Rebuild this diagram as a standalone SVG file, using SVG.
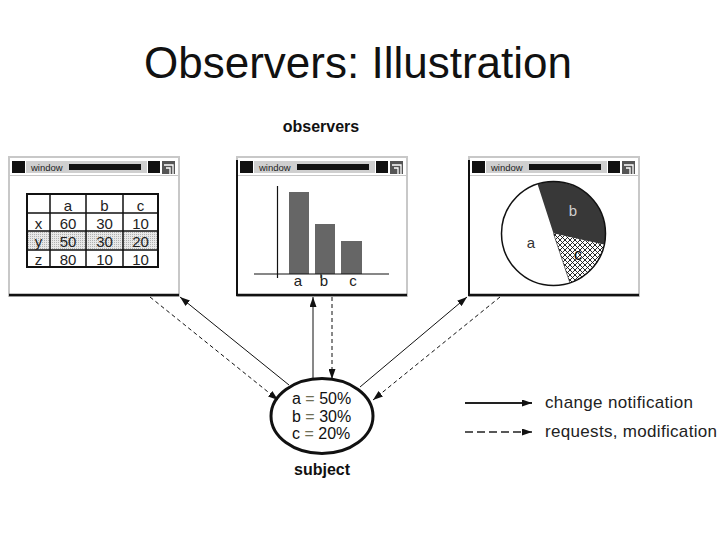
<svg xmlns="http://www.w3.org/2000/svg" xmlns:xlink="http://www.w3.org/1999/xlink" width="720" height="540" viewBox="0 0 720 540">
<style>
text { font-family: "Liberation Sans", Arial, sans-serif; fill: #111; }
.title { font-size: 44px; text-anchor: middle; }
.bold { font-weight: bold; font-size: 16px; text-anchor: middle; }
.cell { font-size: 15px; text-anchor: middle; fill: #222; }
.lbl { font-size: 15px; text-anchor: middle; fill: #222; }
.subj { font-size: 16px; }
.leg { font-size: 17px; fill: #222; }
.conn { stroke: #111; stroke-width: 1; fill: none; }
.dash { stroke-dasharray: 4 3; }
.grid { stroke: #111; stroke-width: 1.5; fill: none; }
</style>
<defs>
<marker id="arr" viewBox="0 0 10 7" refX="10" refY="3.5" markerWidth="10" markerHeight="7" markerUnits="userSpaceOnUse" orient="auto">
<path d="M0,0 L10,3.5 L0,7 z" fill="#111"/>
</marker>
<pattern id="hatch" patternUnits="userSpaceOnUse" width="5" height="5">
<rect width="5" height="5" fill="#fff"/>
<path d="M0,0 L5,5 M5,0 L0,5" stroke="#111" stroke-width="0.9"/>
</pattern>
<pattern id="dots" patternUnits="userSpaceOnUse" width="2" height="2">
<rect width="2" height="2" fill="#e8e8e8"/>
<rect width="1" height="1" fill="#b0b0b0"/>
</pattern>
<g id="win">
<rect x="0" y="0" width="170" height="139" fill="#fff" stroke="#c8c8c8" stroke-width="2"/>
<rect x="3" y="4" width="13" height="12" fill="#111"/>
<rect x="17" y="4" width="121" height="12" fill="#cfcfcf"/>
<text x="22" y="14" style="font-size:9.5px;fill:#222">window</text>
<rect x="60" y="7" width="72" height="6" fill="#111"/>
<rect x="139" y="4" width="12" height="12" fill="#111"/>
<rect x="153" y="4" width="13" height="13" fill="#555"/>
<path d="M155,8 H164 V17 M157,11 H161 V17" stroke="#fff" stroke-width="1.3" fill="none"/>
<line x1="1" y1="18.5" x2="169" y2="18.5" stroke="#c8c8c8" stroke-width="1"/>
<line x1="0" y1="138" x2="170" y2="138" stroke="#111" stroke-width="2.5"/>
</g>
</defs>
<rect width="720" height="540" fill="#fff"/>
<text class="title" x="358" y="78">Observers: Illustration</text>
<text class="bold" x="321" y="132">observers</text>

<g id="table-window">
<use xlink:href="#win" x="9" y="157"/>
<rect x="27" y="231" width="131" height="19" fill="url(#dots)"/>
<rect x="27" y="194" width="131" height="73" fill="none" stroke="#111" stroke-width="2"/>
<path class="grid" d="M50,194 V267 M86,194 V267 M123,194 V267 M27,213 H158 M27,231 H158 M27,250 H158"/>
<text class="cell" x="68" y="211">a</text><text class="cell" x="104.5" y="211">b</text><text class="cell" x="140.5" y="211">c</text>
<text class="cell" x="38.5" y="229">x</text><text class="cell" x="68" y="229">60</text><text class="cell" x="104.5" y="229">30</text><text class="cell" x="140.5" y="229">10</text>
<text class="cell" x="38.5" y="247">y</text><text class="cell" x="68" y="247">50</text><text class="cell" x="104.5" y="247">30</text><text class="cell" x="140.5" y="247">20</text>
<text class="cell" x="38.5" y="265">z</text><text class="cell" x="68" y="265">80</text><text class="cell" x="104.5" y="265">10</text><text class="cell" x="140.5" y="265">10</text>
</g>

<g id="bar-window">
<use xlink:href="#win" x="237" y="157"/>
<line x1="237" y1="160" x2="237" y2="296" stroke="#111" stroke-width="2"/>
<rect x="289" y="192" width="20" height="82" fill="#666"/>
<rect x="315" y="224" width="20" height="50" fill="#666"/>
<rect x="341" y="241" width="21" height="33" fill="#666"/>
<line x1="277.5" y1="186" x2="277.5" y2="278" stroke="#111" stroke-width="1.2"/>
<line x1="254" y1="274" x2="389" y2="274" stroke="#111" stroke-width="1.2"/>
<line x1="321" y1="274" x2="321" y2="278" stroke="#111" stroke-width="1"/>
<text class="lbl" x="298" y="286">a</text>
<text class="lbl" x="324" y="286">b</text>
<text class="lbl" x="353" y="286">c</text>
</g>

<g id="pie-window">
<use xlink:href="#win" x="469" y="157"/>
<line x1="469" y1="160" x2="469" y2="296" stroke="#111" stroke-width="2"/>
<circle cx="553.5" cy="233.5" r="52" fill="#fff"/>
<path d="M553.5,233.5 L537.5,184 A52,52 0 0 1 604.3,244.8 Z" fill="#383838"/>
<path d="M553.5,233.5 L604.3,244.8 A52,52 0 0 1 569.9,282.8 Z" fill="url(#hatch)"/>
<path d="M553.5,233.5 L569.9,282.8" stroke="#111" stroke-width="0.6" fill="none"/>
<circle cx="553.5" cy="233.5" r="52" fill="none" stroke="#111" stroke-width="1.5"/>
<text class="lbl" x="573" y="216" style="fill:#cfcfcf">b</text>
<text class="lbl" x="531" y="248" style="fill:#333">a</text>
<text class="lbl" x="578" y="260" style="fill:#000;font-size:16px;stroke:#fff;stroke-width:0.6;paint-order:stroke">c</text>
</g>

<g id="subject">
<ellipse cx="322" cy="416" rx="51" ry="37.5" fill="#fff" stroke="#111" stroke-width="3"/>
<text class="subj" x="292" y="404">a <tspan fill="#6f6f55">=</tspan> 50%</text>
<text class="subj" x="292" y="422">b <tspan fill="#6f6f55">=</tspan> 30%</text>
<text class="subj" x="292" y="439">c <tspan fill="#6f6f55">=</tspan> 20%</text>
<text class="bold" x="322" y="475">subject</text>
</g>

<g id="connectors">
<line class="conn" x1="289" y1="385" x2="180" y2="297" marker-end="url(#arr)"/>
<line class="conn dash" x1="150" y1="297" x2="278" y2="400" marker-end="url(#arr)"/>
<line class="conn" x1="313" y1="378" x2="313" y2="297" marker-end="url(#arr)"/>
<line class="conn dash" x1="332" y1="297" x2="332" y2="379" marker-end="url(#arr)"/>
<line class="conn" x1="360" y1="387" x2="467" y2="297" marker-end="url(#arr)"/>
<line class="conn dash" x1="500" y1="297" x2="373" y2="400" marker-end="url(#arr)"/>
</g>

<g id="legend">
<line x1="465" y1="403" x2="532" y2="403" stroke="#222" stroke-width="2" marker-end="url(#arr)"/>
<text class="leg" x="545" y="408" textLength="148" lengthAdjust="spacing">change notification</text>
<line x1="465" y1="432" x2="532" y2="432" stroke="#222" stroke-width="1.5" stroke-dasharray="8 4" marker-end="url(#arr)"/>
<text class="leg" x="545" y="437" textLength="172" lengthAdjust="spacing">requests, modification</text>
</g>
</svg>
